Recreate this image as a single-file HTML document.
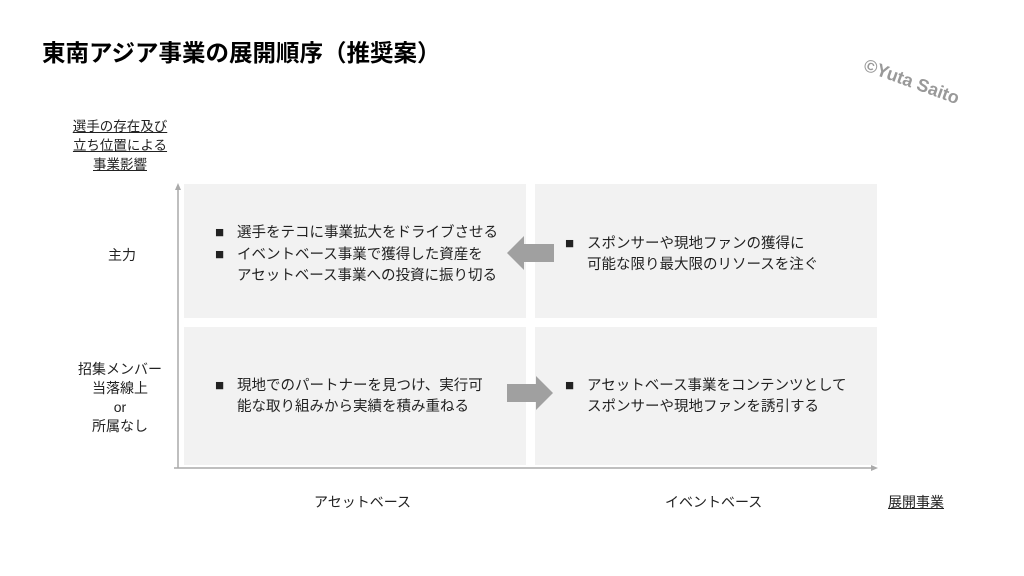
<!DOCTYPE html>
<html><head><meta charset="utf-8"><style>
body{margin:0;width:1024px;height:576px;background:#fff;position:relative;overflow:hidden;font-family:"Liberation Sans","Noto Sans CJK JP",sans-serif;color:#222}
.a{position:absolute;white-space:nowrap}
.box{position:absolute;background:#f2f2f2}
.t{position:absolute;font-size:14.5px;line-height:21px;white-space:nowrap}
.b{display:inline-block;width:22px;font-size:15px}
</style></head><body>
<div class="a" style="left:42px;top:34px;font-size:23.5px;font-weight:bold;color:#000">東南アジア事業の展開順序（推奨案）</div>
<div class="a" style="left:868px;top:55px;font-size:18px;font-weight:bold;color:#999;transform:rotate(20deg);transform-origin:left top">©Yuta Saito</div>
<div class="a" style="left:66px;top:117px;width:108px;text-align:center;font-size:13.5px;line-height:19px;text-decoration:underline">選手の存在及び<br>立ち位置による<br>事業影響</div>
<div class="a" style="left:108px;top:245px;font-size:14px">主力</div>
<div class="a" style="left:66px;top:360px;width:108px;text-align:center;font-size:14px;line-height:19px">招集メンバー<br>当落線上<br>or<br>所属なし</div>
<div class="box" style="left:184px;top:184px;width:342px;height:134px"></div>
<div class="box" style="left:535px;top:184px;width:342px;height:134px"></div>
<div class="box" style="left:184px;top:327px;width:342px;height:138px"></div>
<div class="box" style="left:535px;top:327px;width:342px;height:138px"></div>
<svg class="a" style="left:0;top:0" width="1024" height="576">
<line x1="178" y1="468" x2="178" y2="188" stroke="#aaa" stroke-width="1.5"/>
<polygon points="178,183 175,190 181,190" fill="#aaa"/>
<line x1="174" y1="468" x2="872" y2="468" stroke="#aaa" stroke-width="1.5"/>
<polygon points="878,468 871,465 871,471" fill="#aaa"/>
<polygon points="507,253 524,236 524,244 554,244 554,262 524,262 524,270" fill="#a0a0a0"/>
<polygon points="553,393 536,376 536,384 507,384 507,402 536,402 536,410" fill="#a0a0a0"/>
</svg>
<div class="t" style="left:215px;top:222px"><span class="b">■</span>選手をテコに事業拡大をドライブさせる<br><span class="b">■</span>イベントベース事業で獲得した資産を<br><span class="b"></span>アセットベース事業への投資に振り切る</div>
<div class="t" style="left:565px;top:233px"><span class="b">■</span>スポンサーや現地ファンの獲得に<br><span class="b"></span>可能な限り最大限のリソースを注ぐ</div>
<div class="t" style="left:215px;top:375px"><span class="b">■</span>現地でのパートナーを見つけ、実行可<br><span class="b"></span>能な取り組みから実績を積み重ねる</div>
<div class="t" style="left:565px;top:375px"><span class="b">■</span>アセットベース事業をコンテンツとして<br><span class="b"></span>スポンサーや現地ファンを誘引する</div>
<div class="a" style="left:314px;top:492px;font-size:14px">アセットベース</div>
<div class="a" style="left:665px;top:492px;font-size:14px">イベントベース</div>
<div class="a" style="left:888px;top:492px;font-size:14px;text-decoration:underline">展開事業</div>
</body></html>
